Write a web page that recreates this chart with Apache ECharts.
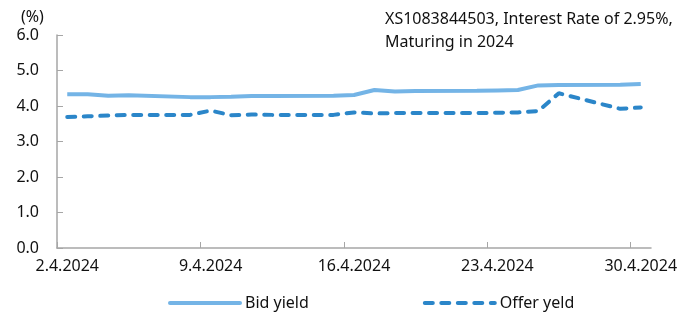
<!DOCTYPE html>
<html>
<head>
<meta charset="utf-8">
<script src="https://cdn.jsdelivr.net/npm/echarts@6/dist/echarts.min.js"></script>
<style>
  html, body { margin: 0; padding: 0; background: #fff; }
  #chart { width: 695px; height: 313px; }
</style>
</head>
<body>
<div id="chart"></div>
<script>
// trading days of April 2024 (day of month)
const days = [2, 3, 4, 5, 8, 9, 10, 11, 12, 15, 16, 17, 18, 19, 22, 23, 24, 25, 26, 29, 30]
const bidYield = [4.33, 4.33, 4.29, 4.30, 4.25, 4.25, 4.26, 4.28, 4.28, 4.29, 4.31, 4.45, 4.41, 4.42, 4.43, 4.44, 4.45, 4.58, 4.59, 4.60, 4.62]
const offerYield = [3.69, 3.71, 3.73, 3.75, 3.75, 3.87, 3.74, 3.76, 3.75, 3.75, 3.82, 3.79, 3.80, 3.80, 3.80, 3.81, 3.82, 3.86, 4.36, 3.92, 3.96]
const tickDays = [2, 9, 16, 23, 30]
const tickLabels = ['2.4.2024', '9.4.2024', '16.4.2024', '23.4.2024', '30.4.2024']

const font = 'Noto Sans'
const toX = d => d - 2 + 0.5 // each day is one slot, point in the middle

const myChart = echarts.init(document.getElementById('chart'))

const option = {
  animation: false,
  title: [
    {
      text: '(%)',
      left: 16,
      top: 4,
      textStyle: { fontFamily: font, fontSize: 16, fontWeight: 'normal', color: '#111' }
    },
    {
      text: 'XS1083844503, Interest Rate of 2.95%,\nMaturing in 2024',
      left: 380,
      top: 3,
      textStyle: { fontFamily: font, fontSize: 16, fontWeight: 'normal', color: '#111', lineHeight: 23 }
    }
  ],
  legend: {
    top: 290,
    left: 163,
    itemWidth: 70,
    itemHeight: 12,
    itemGap: 114,
    itemStyle: { opacity: 0 },
    lineStyle: { width: 4, cap: 'round' },
    textStyle: { fontFamily: font, fontSize: 16, color: '#111' },
    data: ['Bid yield', 'Offer yeld']
  },
  grid: {
    left: 57,
    right: 44,
    top: 35,
    bottom: 65
  },
  xAxis: {
    type: 'value',
    min: 0,
    max: 29,
    splitLine: { show: false },
    axisLine: { lineStyle: { color: '#a6a6a6', width: 1.5 } },
    axisTick: {
      inside: true,
      length: 6,
      customValues: tickDays.map(d => toX(d) - 0.5),
      lineStyle: { color: '#a6a6a6' }
    },
    axisLabel: {
      customValues: tickDays.map(toX),
      formatter: (v) => tickLabels[tickDays.indexOf(Math.round(v - 0.5) + 2)] || '',
      fontFamily: font,
      fontSize: 16,
      color: '#111',
      margin: 10
    }
  },
  yAxis: {
    type: 'value',
    min: 0,
    max: 6,
    interval: 1,
    splitLine: { show: false },
    axisLine: { show: true, lineStyle: { color: '#a6a6a6', width: 1.5 } },
    axisTick: { show: true, inside: true, length: 6, lineStyle: { color: '#a6a6a6' } },
    axisLabel: {
      formatter: (v) => v.toFixed(1),
      fontFamily: font,
      fontSize: 16,
      color: '#111',
      margin: 18
    }
  },
  series: [
    {
      name: 'Bid yield',
      type: 'line',
      symbol: 'none',
      data: days.map((d, i) => [toX(d), bidYield[i]]),
      lineStyle: { color: '#74b4e6', width: 4 },
      itemStyle: { color: '#74b4e6' }
    },
    {
      name: 'Offer yeld',
      type: 'line',
      symbol: 'none',
      data: days.map((d, i) => [toX(d), offerYield[i]]),
      lineStyle: { color: '#2b86c9', width: 4, type: [8, 8.5], cap: 'round' },
      itemStyle: { color: '#2b86c9' }
    }
  ]
}

myChart.setOption(option)
</script>
</body>
</html>
